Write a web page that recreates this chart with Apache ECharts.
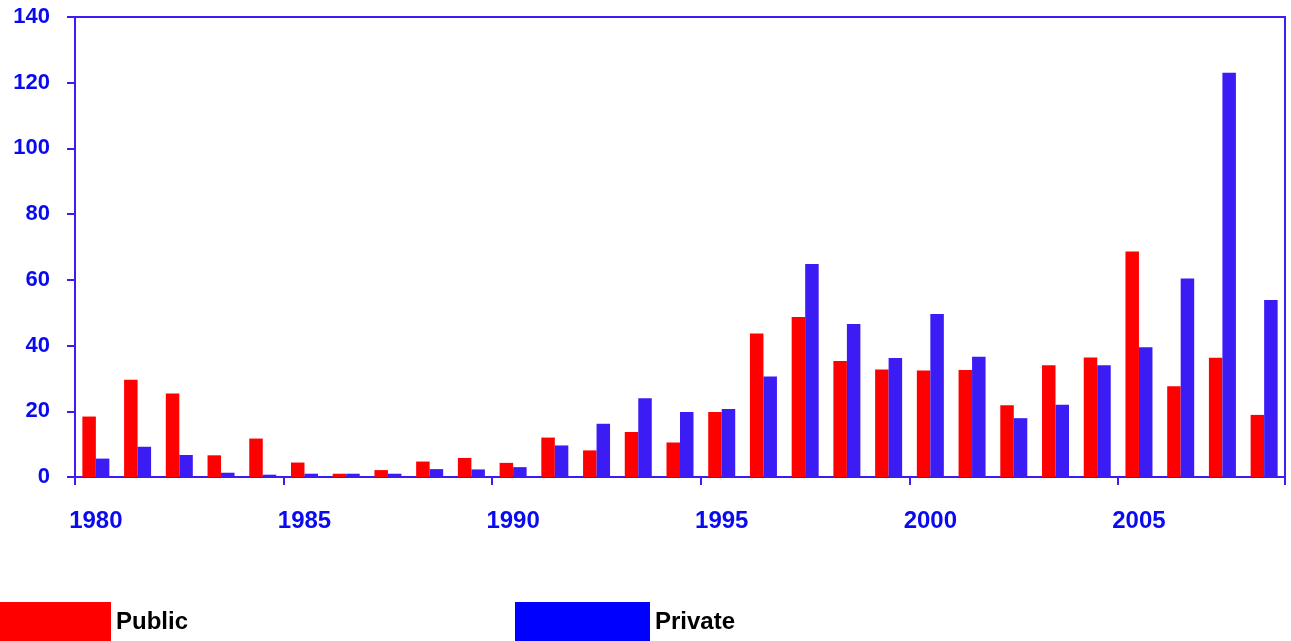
<!DOCTYPE html>
<html>
<head>
<meta charset="utf-8">
<script src="https://cdn.jsdelivr.net/npm/echarts@6/dist/echarts.min.js"></script>
<style>
html,body{margin:0;padding:0;background:#fff;}
#chart{width:1291px;height:641px;}
</style>
</head>
<body>
<div id="chart"></div>
<script>
const years = ['1980','1981','1982','1983','1984','1985','1986','1987','1988','1989','1990','1991','1992','1993','1994','1995','1996','1997','1998','1999','2000','2001','2002','2003','2004','2005','2006','2007','2008'];
const publicValues = [18.4,29.6,25.4,6.6,11.7,4.4,1.0,2.1,4.7,5.8,4.3,12.0,8.1,13.7,10.5,19.8,43.7,48.7,35.3,32.7,32.4,32.6,21.8,34.0,36.4,68.6,27.6,36.3,18.9];
const privateValues = [5.6,9.2,6.7,1.3,0.7,1.0,1.0,1.0,2.4,2.3,3.0,9.6,16.2,24.0,19.8,20.7,30.6,64.8,46.6,36.2,49.6,36.6,17.9,22.0,34.0,39.5,60.4,123.0,53.9];
const yTicks = {min:0, max:140, interval:20};

const axisBlue = '#3B1CF5';
const labelBlue = '#0A0AF0';
const chart = echarts.init(document.getElementById('chart'));
chart.setOption({
  animation:false,
  grid:{left:75, right:6, top:17, bottom:164, show:true, borderColor:axisBlue, borderWidth:2},
  legend:[
    {data:[{name:'Public', itemStyle:{color:'#FF0000'}}], left:0, top:602, padding:0, itemWidth:111, itemHeight:40, icon:'rect',
     textStyle:{fontFamily:'Liberation Sans', fontWeight:'bold', fontSize:24, color:'#000'}},
    {data:[{name:'Private', itemStyle:{color:'#0000FF'}}], left:515, top:602, padding:0, itemWidth:135, itemHeight:40, icon:'rect',
     textStyle:{fontFamily:'Liberation Sans', fontWeight:'bold', fontSize:24, color:'#000'}}
  ],
  xAxis:{
    type:'category', data:years, boundaryGap:true,
    axisLine:{lineStyle:{color:axisBlue, width:2}},
    axisTick:{show:true, interval:4, length:8, lineStyle:{color:axisBlue, width:2}},
    axisLabel:{interval:4, margin:32, color:labelBlue, fontFamily:'Liberation Sans', fontWeight:'bold', fontSize:24}
  },
  yAxis:{
    type:'value', min:yTicks.min, max:yTicks.max, interval:yTicks.interval,
    splitLine:{show:false},
    axisLine:{show:true, lineStyle:{color:axisBlue, width:2}},
    axisTick:{show:true, length:8, lineStyle:{color:axisBlue, width:2}},
    axisLabel:{margin:25, color:labelBlue, fontFamily:'Liberation Sans', fontWeight:'bold', fontSize:22}
  },
  series:[
    {name:'Public', type:'bar', data:publicValues, barWidth:13.5, barGap:'0%', itemStyle:{color:'#FF0000'}},
    {name:'Private', type:'bar', data:privateValues, barWidth:13.5, barGap:'0%', itemStyle:{color:axisBlue}}
  ]
});
</script>
</body>
</html>
